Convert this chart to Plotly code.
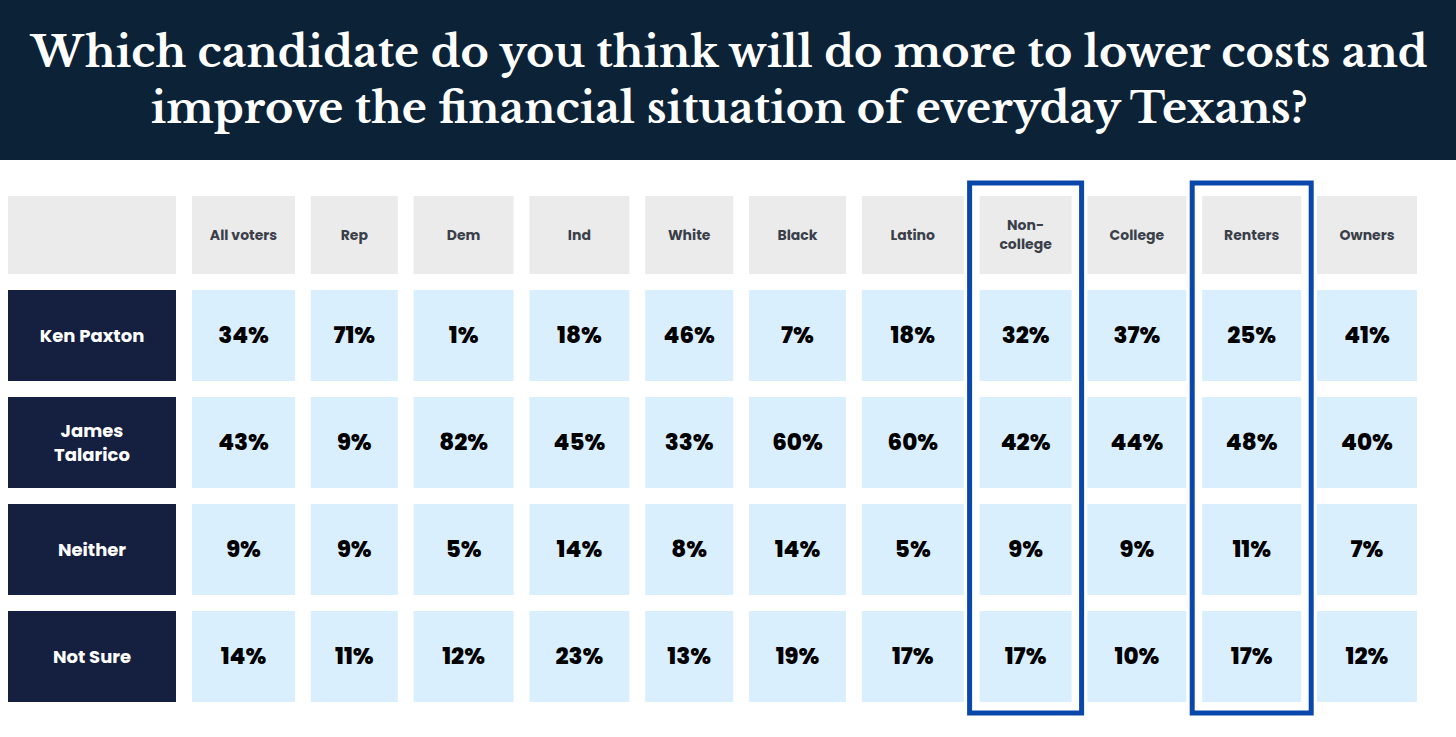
import plotly.graph_objects as go

# ---------------- data ----------------
title_lines = [
    "Which candidate do you think will do more to lower costs and",
    "improve the financial situation of everyday Texans?",
]
groups = ["All voters", "Rep", "Dem", "Ind", "White", "Black", "Latino",
          "Non-<br>college", "College", "Renters", "Owners"]
answers = ["Ken Paxton", "James<br>Talarico", "Neither", "Not Sure"]
ken_paxton = [34, 71, 1, 18, 46, 7, 18, 32, 37, 25, 41]
james_talarico = [43, 9, 82, 45, 33, 60, 60, 42, 44, 48, 40]
neither = [9, 9, 5, 14, 8, 14, 5, 9, 9, 11, 7]
not_sure = [14, 11, 12, 23, 13, 19, 17, 17, 10, 17, 12]
values = [ken_paxton, james_talarico, neither, not_sure]
highlighted = ["Non-<br>college", "Renters"]

# ---------------- layout / style ----------------
W, H = 1456, 737
BANNER_H = 160
LABEL_X0, LABEL_W = 8, 168
COL_X0 = 192
COL_GAP = 15.8
COL_W = [103, 87, 100, 100, 88, 97, 102, 92, 99, 99, 100]
HEAD_Y0, HEAD_H = 196, 78
ROW_Y0, ROW_H, ROW_GAP = 290, 91, 16
HL_PAD_X, HL_PAD_TOP, HL_PAD_BOT = 10, 13, 11
TEXT_NUDGE = 2

BANNER = "#0c2237"
NAVY = "#151f40"
CELL = "#daeffd"
HEAD = "#ebebeb"
HEAD_TXT = "#3a3f4a"
HL = "#0a47ab"
FONT = "Poppins, Inter, Roboto, sans-serif"
TITLE_FONT = "Libre Baskerville, DejaVu Serif, serif"

# column left edges
col_left = []
x = COL_X0
for w in COL_W:
    col_left.append(x)
    x += w + COL_GAP
row_top = [ROW_Y0 + i * (ROW_H + ROW_GAP) for i in range(len(answers))]

shapes = []
# banner
shapes.append(dict(type="rect", xref="x", yref="y", x0=0, x1=W, y0=0, y1=BANNER_H,
                   fillcolor=BANNER, line_width=0, layer="below"))
# header corner cell
shapes.append(dict(type="rect", xref="x", yref="y", x0=LABEL_X0, x1=LABEL_X0 + LABEL_W,
                   y0=HEAD_Y0, y1=HEAD_Y0 + HEAD_H, fillcolor=HEAD, line_width=0, layer="below"))
# header cells
for j, g in enumerate(groups):
    shapes.append(dict(type="rect", xref="x", yref="y", x0=col_left[j], x1=col_left[j] + COL_W[j],
                       y0=HEAD_Y0, y1=HEAD_Y0 + HEAD_H, fillcolor=HEAD, line_width=0, layer="below"))
# row label and value cells
for i, a in enumerate(answers):
    shapes.append(dict(type="rect", xref="x", yref="y", x0=LABEL_X0, x1=LABEL_X0 + LABEL_W,
                       y0=row_top[i], y1=row_top[i] + ROW_H, fillcolor=NAVY, line_width=0, layer="below"))
    for j in range(len(groups)):
        shapes.append(dict(type="rect", xref="x", yref="y", x0=col_left[j], x1=col_left[j] + COL_W[j],
                           y0=row_top[i], y1=row_top[i] + ROW_H, fillcolor=CELL, line_width=0, layer="below"))
# highlight boxes
for g in highlighted:
    j = groups.index(g)
    shapes.append(dict(type="rect", xref="x", yref="y",
                       x0=col_left[j] - HL_PAD_X, x1=col_left[j] + COL_W[j] + HL_PAD_X,
                       y0=HEAD_Y0 - HL_PAD_TOP, y1=row_top[-1] + ROW_H + HL_PAD_BOT,
                       fillcolor="rgba(0,0,0,0)", line=dict(color=HL, width=5)))

fig = go.Figure()

# header texts
fig.add_trace(go.Scatter(
    x=[col_left[j] + COL_W[j] / 2 for j in range(len(groups))],
    y=[HEAD_Y0 + HEAD_H / 2 + 1] * len(groups),
    text=groups, mode="text",
    textfont=dict(family=FONT, size=14, color=HEAD_TXT, weight="bold"),
    hoverinfo="skip", showlegend=False))

# row labels
fig.add_trace(go.Scatter(
    x=[LABEL_X0 + LABEL_W / 2] * len(answers),
    y=[row_top[i] + ROW_H / 2 + TEXT_NUDGE for i in range(len(answers))],
    text=answers, mode="text",
    textfont=dict(family=FONT, size=18, color="white", weight="bold"),
    hoverinfo="skip", showlegend=False))

# values
vx, vy, vt = [], [], []
for i, row in enumerate(values):
    for j, v in enumerate(row):
        vx.append(col_left[j] + COL_W[j] / 2)
        vy.append(row_top[i] + ROW_H / 2 + TEXT_NUDGE)
        vt.append(f"{v}%")
fig.add_trace(go.Scatter(
    x=vx, y=vy, text=vt, mode="text",
    textfont=dict(family=FONT, size=23, color="#000000", weight=800),
    hoverinfo="skip", showlegend=False))

fig.add_annotation(
    x=W / 2, y=BANNER_H / 2, xref="x", yref="y",
    text="<br>".join(title_lines), showarrow=False,
    font=dict(family=TITLE_FONT, size=43, color="white", weight="bold"),
    align="center")

fig.update_layout(
    width=W, height=H, autosize=False,
    margin=dict(l=0, r=0, t=0, b=0),
    paper_bgcolor="white", plot_bgcolor="white",
    shapes=shapes,
    xaxis=dict(range=[0, W], visible=False, fixedrange=True),
    yaxis=dict(range=[H, 0], visible=False, fixedrange=True),
)

fig.write_html("out.html", config={"displayModeBar": False},
               post_script="document.body.style.margin='0';document.body.style.overflow='hidden';")
